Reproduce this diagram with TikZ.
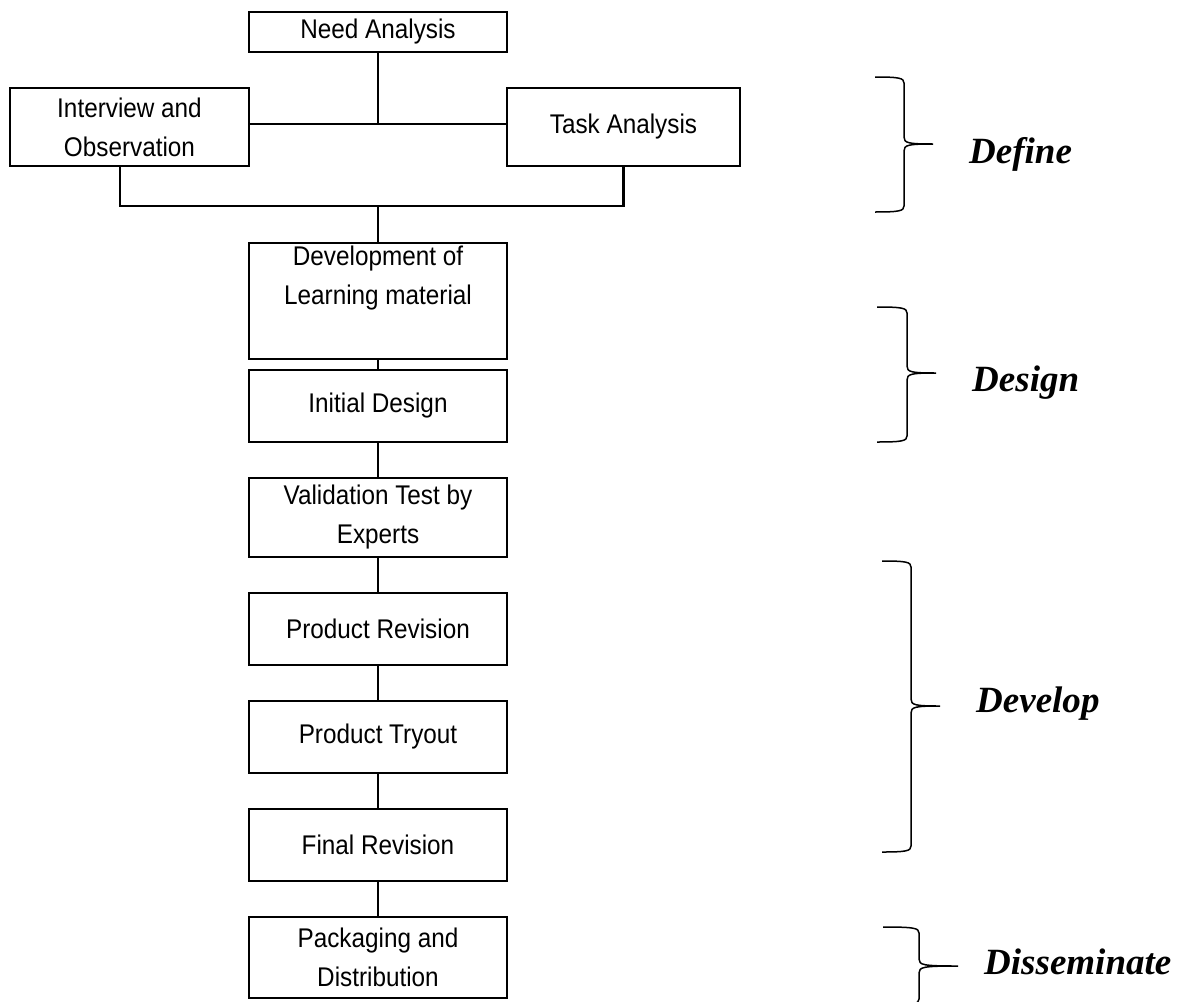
\documentclass[tikz,border=0pt]{standalone}
\usepackage{fontspec}
\setmainfont{Liberation Sans}[FakeStretch=0.9]
\newfontfamily\phasefont{Liberation Serif}
\begin{document}
\begin{tikzpicture}[x=1pt,y=-1pt,
  box/.style={draw, line width=2.2pt, inner sep=0pt, align=center,
    font=\fontsize{27}{39}\selectfont},
  link/.style={line width=2.2pt},
  bracestroke/.style={line width=1.5pt, line join=round},
  phase/.style={anchor=base west, inner sep=0pt,
    font=\phasefont\fontsize{37}{40}\selectfont\bfseries\itshape}]
\useasboundingbox (0,0) rectangle (1190,1001);

% boxes
\node[box, minimum width=258pt, minimum height=40pt] (need) at (378,32) {Need Analysis};
\node[box, minimum width=239pt, minimum height=78pt] (interview) at (129.5,127) {Interview and\\Observation};
\node[box, minimum width=233pt, minimum height=78pt] (task) at (623.5,127) {\raisebox{-4pt}{Task Analysis}};
\node[box, minimum width=258pt, minimum height=116pt] (dev) at (378,301) {Development of\\Learning material\\\strut};
\node[box, minimum width=258pt, minimum height=72pt] (init) at (378,406) {Initial Design};
\node[box, minimum width=258pt, minimum height=79pt] (valid) at (378,517.5) {Validation Test by\\Experts};
\node[box, minimum width=258pt, minimum height=72pt] (prodrev) at (378,629) {Product Revision};
\node[box, minimum width=258pt, minimum height=72pt] (tryout) at (378,737) {Product Tryout};
\node[box, minimum width=258pt, minimum height=72pt] (final) at (378,845) {Final Revision};
\node[box, minimum width=258pt, minimum height=81pt] (pack) at (378,957.5) {Packaging and\\Distribution};

% connectors
\coordinate (j1) at (378,124);
\coordinate (j2) at (378,206);
\draw[link] (need.south) -- (j1);
\draw[link] (interview.east |- j1) -- (task.west |- j1);
\draw[link] ([xshift=-9.5pt]interview.south) |- (j2) -| (task.south);
\draw[link] (j2) -- (dev.north);
\draw[link] (dev.south) -- (init.north);
\draw[link] (init.south) -- (valid.north);
\draw[link] (valid.south) -- (prodrev.north);
\draw[link] (prodrev.south) -- (tryout.north);
\draw[link] (tryout.south) -- (final.north);
\draw[link] (final.south) -- (pack.north);

% braces: left end xL, vertical xV, tip xT, top yT, mid yM, bottom yB
\newcommand{\phasebrace}[6]{%
  \draw[bracestroke] (#1,#4) .. controls (#2-5,#4) and (#2,#4+1) .. (#2,#4+6)
    -- (#2,#5-7) .. controls (#2,#5-1) and (#2+4,#5) .. (#3,#5)
    (#3,#5) .. controls (#2+4,#5) and (#2,#5+1) .. (#2,#5+7)
    -- (#2,#6-6) .. controls (#2,#6-1) and (#2-5,#6) .. (#1,#6);}
\phasebrace{875}{904}{933}{77}{144}{212}
\phasebrace{877}{907}{936}{307}{373}{442}
\phasebrace{882}{911}{940}{561}{706}{852}
\phasebrace{883}{919}{958}{927}{966}{1005}

% phase labels
\node[phase] (define) at (969,163) {Define};
\node[phase] (design) at (972,391) {Design};
\node[phase] (develop) at (976,712) {Develop};
\node[phase] (disseminate) at (984,974) {Disseminate};
\end{tikzpicture}
\end{document}
